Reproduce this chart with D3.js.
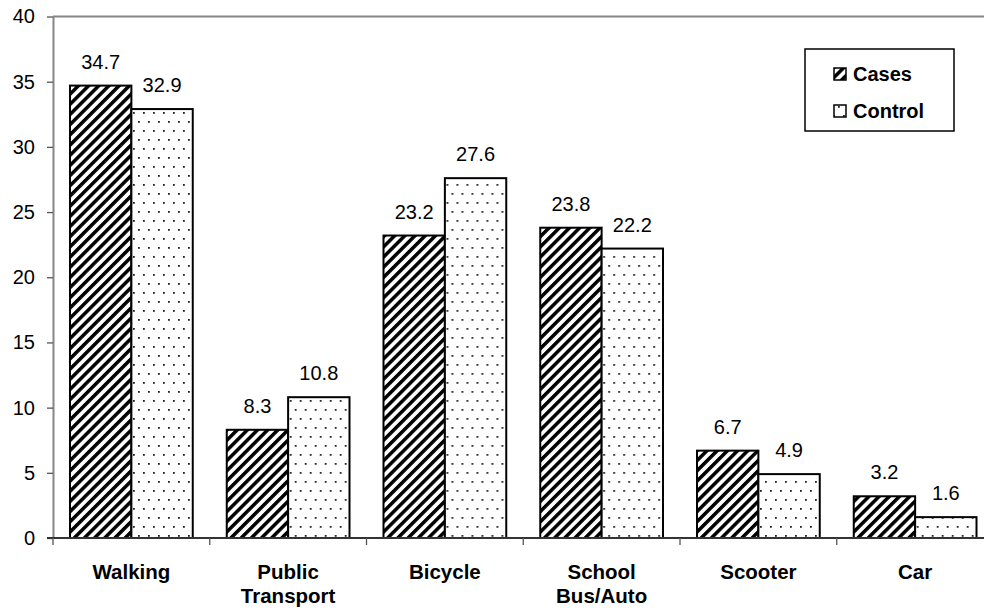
<!DOCTYPE html>
<html>
<head>
<meta charset="utf-8">
<script src="https://cdn.jsdelivr.net/npm/d3@7"></script>
<style>
  html, body { margin: 0; padding: 0; background: #fff; }
  svg { display: block; font-family: 'Liberation Sans', Arial, sans-serif; }
</style>
</head>
<body>
<div id="chart"></div>
<script>
// data
const categories = ['Walking', 'Public Transport', 'Bicycle', 'School Bus/Auto', 'Scooter', 'Car'];
const categoryLines = [['Walking'], ['Public', 'Transport'], ['Bicycle'], ['School', 'Bus/Auto'], ['Scooter'], ['Car']];
const seriesNames = ['Cases', 'Control'];
const casesValues = [34.7, 8.3, 23.2, 23.8, 6.7, 3.2];
const controlValues = [32.9, 10.8, 27.6, 22.2, 4.9, 1.6];
const yTicks = [0, 5, 10, 15, 20, 25, 30, 35, 40];

const width = 984;
const height = 613;
const plotLeft = 53;
const step = 156.75;
const plotTop = 16.5;
const plotBottom = 538;

const svg = d3.select('#chart').append('svg')
    .attr('width', width)
    .attr('height', height);

const defs = svg.append('defs');

// hatch pattern for cases
const hatch = defs.append('pattern')
    .attr('id', 'hatch')
    .attr('patternUnits', 'userSpaceOnUse')
    .attr('width', 7.2)
    .attr('height', 7.2)
    .attr('patternTransform', 'rotate(45)');
hatch.append('rect').attr('width', 7.2).attr('height', 7.2).attr('fill', '#fff');
hatch.append('rect').attr('x', 0).attr('y', 0).attr('width', 3.5).attr('height', 7.2).attr('fill', '#000');

// dotted pattern for control
const dots = defs.append('pattern')
    .attr('id', 'dots')
    .attr('patternUnits', 'userSpaceOnUse')
    .attr('width', 20)
    .attr('height', 18);
dots.append('rect').attr('width', 20).attr('height', 18).attr('fill', '#fff');
[[3, 4], [13, 4], [8, 13], [18, 13]].forEach(([cx, cy]) => {
  dots.append('rect').attr('x', cx).attr('y', cy)
      .attr('width', 1.8).attr('height', 1.8).attr('fill', '#222');
});

const fills = {Cases: 'url(#hatch)', Control: 'url(#dots)'};

// scales
const x0 = d3.scaleBand()
    .domain(categories)
    .range([plotLeft, plotLeft + step * categories.length])
    .paddingInner(34 / step)
    .paddingOuter(17 / step);

const x1 = d3.scaleBand()
    .domain(seriesNames)
    .range([0, x0.bandwidth()]);

const y = d3.scaleLinear()
    .domain([0, 40])
    .range([plotBottom, plotTop]);

const rows = categories.map((c, i) => ({
  category: c,
  values: [
    {series: 'Cases', value: casesValues[i]},
    {series: 'Control', value: controlValues[i]}
  ]
}));

// top frame line
svg.append('line')
    .attr('x1', plotLeft).attr('x2', width)
    .attr('y1', y(40)).attr('y2', y(40))
    .attr('stroke', '#868686').attr('stroke-width', 2);

// bars
const groups = svg.append('g').selectAll('g')
    .data(rows)
    .join('g')
    .attr('transform', (d) => `translate(${x0(d.category)},0)`);

groups.selectAll('rect')
    .data((d) => d.values)
    .join('rect')
    .attr('x', (d) => x1(d.series))
    .attr('y', (d) => y(d.value))
    .attr('width', x1.bandwidth())
    .attr('height', (d) => y(0) - y(d.value))
    .attr('fill', (d) => fills[d.series])
    .attr('stroke', '#000')
    .attr('stroke-width', 2);

groups.selectAll('text')
    .data((d) => d.values)
    .join('text')
    .attr('x', (d) => x1(d.series) + x1.bandwidth() / 2)
    .attr('y', (d) => y(d.value) - 17)
    .attr('text-anchor', 'middle')
    .attr('font-size', 20)
    .attr('fill', '#000')
    .text((d) => d3.format('.1f')(d.value));

// y axis
const yAxis = svg.append('g')
    .attr('transform', `translate(${plotLeft},0)`)
    .call(d3.axisLeft(y).tickValues(yTicks).tickSize(6).tickPadding(12).tickSizeOuter(0));
yAxis.select('.domain').attr('stroke', '#868686').attr('stroke-width', 2);
yAxis.selectAll('.tick line').attr('stroke', '#555').attr('stroke-width', 1.3);
yAxis.selectAll('.tick text')
    .attr('font-size', 20)
    .attr('font-family', "'Liberation Sans', Arial, sans-serif")
    .attr('fill', '#000');

// x axis baseline and ticks at category boundaries
const boundaries = d3.range(categories.length + 1).map((i) => plotLeft + i * x0.step());
svg.append('line')
    .attr('x1', plotLeft - 6).attr('x2', width)
    .attr('y1', y(0)).attr('y2', y(0))
    .attr('stroke', '#333').attr('stroke-width', 2);
svg.append('g').selectAll('line')
    .data(boundaries)
    .join('line')
    .attr('x1', (d) => d).attr('x2', (d) => d)
    .attr('y1', y(0)).attr('y2', y(0) + 7)
    .attr('stroke', '#555').attr('stroke-width', 1.3);

// category labels
const catLabels = svg.append('g').selectAll('text')
    .data(categories)
    .join('text')
    .attr('text-anchor', 'middle')
    .attr('font-size', 20.5)
    .attr('font-weight', 'bold')
    .attr('fill', '#000');
catLabels.each(function(c, i) {
  const cx = x0(c) + x0.bandwidth() / 2;
  d3.select(this).selectAll('tspan')
      .data(categoryLines[i])
      .join('tspan')
      .attr('x', cx)
      .attr('y', (_, j) => 579 + j * 24)
      .text((d) => d);
});

// legend
const legend = svg.append('g');
legend.append('rect')
    .attr('x', 805).attr('y', 49)
    .attr('width', 149).attr('height', 82)
    .attr('fill', '#fff')
    .attr('stroke', '#000').attr('stroke-width', 1.5);
const legendItems = legend.selectAll('g')
    .data(seriesNames)
    .join('g')
    .attr('transform', (_, i) => `translate(0,${74 + i * 37})`);
legendItems.append('rect')
    .attr('x', 834).attr('y', -6)
    .attr('width', 12).attr('height', 12)
    .attr('fill', (d) => fills[d])
    .attr('stroke', '#000').attr('stroke-width', 1.5);
legendItems.append('text')
    .attr('x', 853).attr('y', 7)
    .attr('font-size', 20)
    .attr('font-weight', 'bold')
    .attr('fill', '#000')
    .text((d) => d);
</script>
</body>
</html>
